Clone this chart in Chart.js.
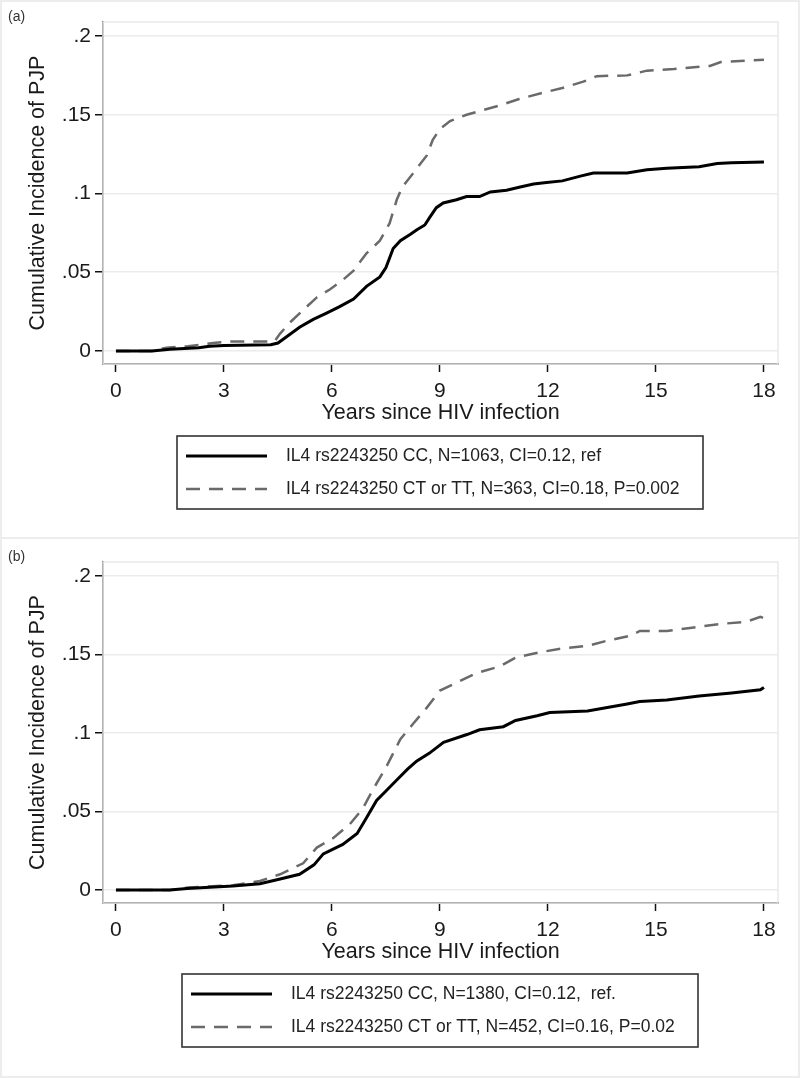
<!DOCTYPE html>
<html>
<head>
<meta charset="utf-8">
<script src="https://cdn.jsdelivr.net/npm/chart.js@4.4.1/dist/chart.umd.min.js"></script>
<style>
  body { margin: 0; background: #fff; font-family: "Liberation Sans", Arial, sans-serif; }
  .frame { position: absolute; left: 0; width: 800px; box-sizing: border-box; border: 2px solid #ededed; pointer-events: none; }
  .tag { position: absolute; left: 8px; font-size: 14px; color: #333; }
  canvas { position: absolute; left: 0; }
</style>
</head>
<body>
<div class="frame" style="top:0;height:539px"></div>
<div class="frame" style="top:537px;height:541px"></div>
<canvas id="chartA" width="800" height="538" style="top:0"></canvas>
<canvas id="chartB" width="800" height="540" style="top:538px"></canvas>
<div class="tag" style="top:8px">(a)</div>
<div class="tag" style="top:548px">(b)</div>
<script>
// ticks
const xTicks = [0, 3, 6, 9, 12, 15, 18];
const yTicks = [0, 0.05, 0.1, 0.15, 0.2];
const yTickLabels = ['0', '.05', '.1', '.15', '.2'];

// panel (a), years since HIV infection -> cumulative incidence
const aCcYears = [0, 1.0, 1.5, 2.3, 2.6, 3.0, 4.3, 4.5, 4.74, 5.1, 5.48, 5.85, 6.2, 6.6, 6.96, 7.33, 7.5, 7.7, 7.9, 8.17, 8.36, 8.58, 8.72, 8.9, 9.09, 9.46, 9.74, 10.1, 10.4, 10.85, 11.2, 11.6, 11.96, 12.4, 12.9, 13.26, 14.2, 14.75, 15.3, 16.2, 16.7, 17.1, 18.0];
const aCcCI    = [0, 0, 0.001, 0.002, 0.003, 0.0035, 0.004, 0.005, 0.009, 0.015, 0.020, 0.024, 0.028, 0.033, 0.041, 0.047, 0.053, 0.065, 0.070, 0.074, 0.077, 0.080, 0.085, 0.091, 0.094, 0.096, 0.098, 0.098, 0.101, 0.102, 0.104, 0.106, 0.107, 0.108, 0.111, 0.113, 0.113, 0.115, 0.116, 0.117, 0.119, 0.1195, 0.120];
const aCtYears = [0, 1.0, 1.4, 2.0, 2.7, 3.2, 4.4, 4.56, 4.83, 5.2, 5.58, 5.94, 6.3, 6.6, 6.96, 7.33, 7.6, 7.8, 7.95, 8.26, 8.63, 8.8, 9.0, 9.28, 9.74, 10.2, 10.67, 11.2, 11.87, 12.4, 12.98, 13.36, 14.2, 14.75, 15.5, 16.5, 16.8, 18.0];
const aCtCI    = [0, 0, 0.002, 0.003, 0.005, 0.006, 0.006, 0.011, 0.018, 0.026, 0.034, 0.039, 0.045, 0.051, 0.062, 0.070, 0.081, 0.096, 0.104, 0.113, 0.124, 0.134, 0.141, 0.146, 0.150, 0.153, 0.156, 0.160, 0.164, 0.167, 0.171, 0.1745, 0.175, 0.178, 0.179, 0.181, 0.1835, 0.185];
const aLabels = ['IL4 rs2243250 CC, N=1063, CI=0.12, ref', 'IL4 rs2243250 CT or TT, N=363, CI=0.18, P=0.002'];

// panel (b)
const bCcYears = [0, 1.5, 1.97, 3.25, 4.0, 4.56, 5.1, 5.5, 5.76, 6.3, 6.7, 6.96, 7.24, 7.5, 7.8, 8.1, 8.35, 8.7, 9.1, 9.75, 10.1, 10.76, 11.1, 11.7, 12.05, 13.1, 14.2, 14.55, 15.3, 16.2, 17.1, 17.9, 18.0];
const bCcCI    = [0, 0, 0.001, 0.0025, 0.004, 0.007, 0.010, 0.016, 0.023, 0.029, 0.036, 0.046, 0.057, 0.063, 0.070, 0.077, 0.082, 0.087, 0.094, 0.099, 0.102, 0.104, 0.108, 0.111, 0.113, 0.114, 0.1185, 0.120, 0.121, 0.1235, 0.1255, 0.1275, 0.129];
const bCtYears = [0, 1.5, 2.0, 3.25, 4.0, 4.56, 4.92, 5.2, 5.58, 6.03, 6.5, 6.86, 7.14, 7.5, 7.9, 8.26, 8.63, 9.0, 9.46, 10.0, 10.67, 11.1, 11.8, 12.3, 13.1, 13.6, 14.3, 14.55, 15.3, 16.0, 16.8, 17.5, 17.9, 18.0];
const bCtCI    = [0, 0, 0.0015, 0.003, 0.0057, 0.010, 0.014, 0.017, 0.027, 0.033, 0.042, 0.052, 0.064, 0.078, 0.096, 0.106, 0.116, 0.127, 0.132, 0.138, 0.1425, 0.148, 0.1515, 0.1535, 0.1555, 0.1585, 0.162, 0.165, 0.165, 0.167, 0.1695, 0.1707, 0.174, 0.173];
const bLabels = ['IL4 rs2243250 CC, N=1380, CI=0.12,  ref.', 'IL4 rs2243250 CT or TT, N=452, CI=0.16, P=0.02'];

const FONT = '"Liberation Sans", Arial, sans-serif';
const pts = (xs, ys) => xs.map((x, i) => ({ x, y: ys[i] }));

// light outline round the plot region (top/right edges are light in Stata's look)
const plotRegion = {
  id: 'plotRegion',
  beforeDatasetsDraw(chart) {
    const { left, right, top, bottom } = chart.chartArea;
    const ctx = chart.ctx;
    ctx.save();
    ctx.strokeStyle = '#e9e9e9';
    ctx.lineWidth = 1.5;
    ctx.strokeRect(left, top, right - left, bottom - top);
    ctx.restore();
  }
};

// boxed legend, rows stacked and left aligned like the Stata legend
const boxLegend = {
  id: 'boxLegend',
  afterDraw(chart, args, o) {
    const ctx = chart.ctx;
    ctx.save();
    ctx.strokeStyle = '#333';
    ctx.lineWidth = 1.6;
    ctx.strokeRect(o.left, o.top, o.width, o.height);
    ctx.font = o.font;
    ctx.textBaseline = 'middle';
    ctx.fillStyle = '#222';
    chart.data.datasets.forEach((d, i) => {
      const y = o.rowY + i * o.rowGap;
      ctx.beginPath();
      ctx.setLineDash(d.borderDash || []);
      ctx.lineWidth = d.borderWidth;
      ctx.strokeStyle = d.borderColor;
      ctx.moveTo(o.sampleX, y);
      ctx.lineTo(o.sampleX + o.sampleW, y);
      ctx.stroke();
      ctx.setLineDash([]);
      ctx.fillText(d.label, o.textX, y);
    });
    ctx.restore();
  }
};

function ciChart(id, cc, ct, labels, pad, legend) {
  return new Chart(document.getElementById(id), {
    type: 'line',
    data: {
      datasets: [
        { label: labels[0], data: cc, borderColor: '#000', borderWidth: 3, pointRadius: 0, tension: 0, fill: false },
        { label: labels[1], data: ct, borderColor: '#6a6a6a', borderWidth: 2.5, borderDash: [14, 9], pointRadius: 0, tension: 0, fill: false }
      ]
    },
    options: {
      responsive: false, animation: false, events: [],
      layout: { padding: pad },
      scales: {
        x: {
          type: 'linear', min: -0.36, max: 18.39,
          afterBuildTicks: s => { s.ticks = xTicks.map(v => ({ value: v })); },
          afterFit: s => { s.height = 62; },
          ticks: { color: '#1a1a1a', font: { family: FONT, size: 21 }, padding: 7, maxRotation: 0 },
          grid: { drawOnChartArea: false, tickLength: 8, tickColor: '#111', tickWidth: 1.5 },
          border: { color: '#111', width: 1.5 },
          title: { display: true, text: 'Years since HIV infection', color: '#1a1a1a', font: { family: FONT, size: 21.5 }, padding: { top: 0, bottom: 0 } }
        },
        y: {
          type: 'linear', min: -0.0083, max: 0.2089,
          afterBuildTicks: s => { s.ticks = yTicks.map(v => ({ value: v })); },
          afterFit: s => { s.width = 103; },
          ticks: { color: '#1a1a1a', font: { family: FONT, size: 21 }, padding: 4, callback: (v, i) => yTickLabels[i] },
          grid: { color: '#ececec', lineWidth: 1.5, tickLength: 8, tickColor: '#111', tickWidth: 1.5 },
          border: { color: '#111', width: 1.5 },
          title: { display: true, text: 'Cumulative Incidence of PJP', color: '#1a1a1a', font: { family: FONT, size: 21.5 }, padding: { top: 25, bottom: 0 } }
        }
      },
      plugins: { legend: { display: false }, tooltip: { enabled: false }, boxLegend: legend }
    },
    plugins: [plotRegion, boxLegend]
  });
}

ciChart('chartA', pts(aCcYears, aCcCI), pts(aCtYears, aCtCI), aLabels,
  { left: 0, top: 22, right: 22, bottom: 112 },
  { left: 177, top: 436, width: 526, height: 73, rowY: 456, rowGap: 33, sampleX: 186, sampleW: 81, textX: 286, font: '17.5px ' + FONT });

ciChart('chartB', pts(bCcYears, bCcCI), pts(bCtYears, bCtCI), bLabels,
  { left: 0, top: 24, right: 22, bottom: 113 },
  { left: 182, top: 436, width: 516, height: 73, rowY: 456, rowGap: 33, sampleX: 191, sampleW: 81, textX: 291, font: '17.5px ' + FONT });
</script>
</body>
</html>
